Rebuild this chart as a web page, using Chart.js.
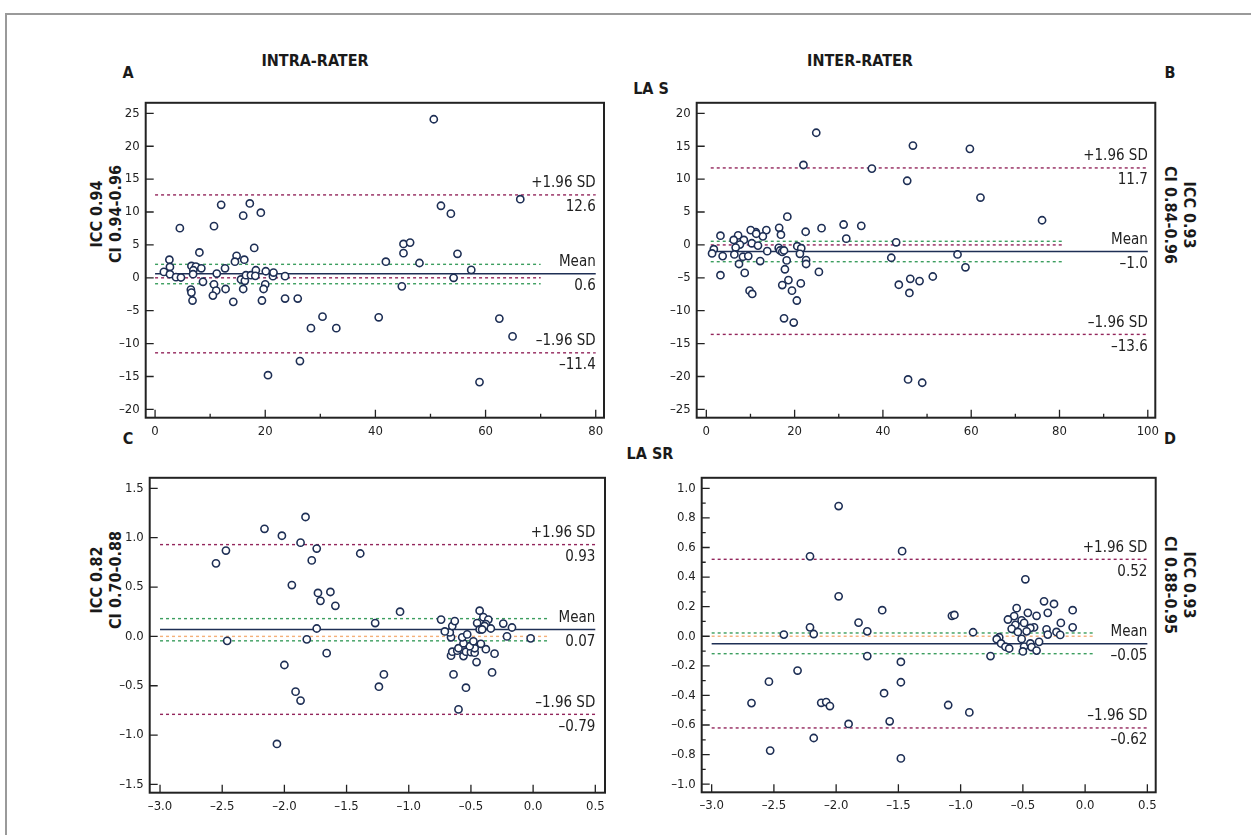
<!DOCTYPE html>
<html>
<head>
<meta charset="utf-8">
<title>LA strain – Bland-Altman</title>
<script src="https://cdn.jsdelivr.net/npm/chart.js@4.4.1/dist/chart.umd.min.js"></script>
<style>
  body { margin: 0; background: #fff; width: 1251px; height: 835px; position: relative; overflow: hidden;
         font-family: 'Liberation Sans Narrow', 'Arial Narrow', 'DejaVu Sans Condensed', sans-serif; color: #1a1a1a; }
  .border { position: absolute; left: 5px; top: 13px; width: 1300px; height: 900px;
            border-top: 2px solid #9a9a9a; border-left: 2px solid #9a9a9a; }
  .t { position: absolute; font-weight: bold; white-space: nowrap; transform: translate(-50%, -50%); font-size: 16px; }
  .rl { position: absolute; font-weight: bold; white-space: nowrap; font-size: 16px; line-height: 19px; text-align: center; }
  .rl.left { transform: translate(-50%, -50%) rotate(-90deg); }
  .rl.right { transform: translate(-50%, -50%) rotate(90deg); }
</style>
</head>
<body>
<div class="border"></div>

<div class="t" style="left:128px;top:72px">A</div>
<div class="t" style="left:1170px;top:72px">B</div>
<div class="t" style="left:128px;top:438px">C</div>
<div class="t" style="left:1170px;top:438px">D</div>
<div class="t" style="left:315px;top:60px">INTRA-RATER</div>
<div class="t" style="left:860px;top:60px">INTER-RATER</div>
<div class="t" style="left:651px;top:88px">LA S</div>
<div class="t" style="left:650px;top:453px">LA SR</div>

<div class="rl left" style="left:106px;top:214px">ICC 0.94<br>CI 0.94-0.96</div>
<div class="rl right" style="left:1180px;top:215px">ICC 0.93<br>CI 0.84-0.96</div>
<div class="rl left" style="left:106px;top:580px">ICC 0.82<br>CI 0.70-0.88</div>
<div class="rl right" style="left:1180px;top:585px">ICC 0.93<br>CI 0.88-0.95</div>

<script>
const intraS = [[50.6,24.1],[12.0,11.1],[17.2,11.3],[16.0,9.45],[19.2,9.9],[4.5,7.55],[10.7,7.85],[18.0,4.55],
  [8.05,3.85],[2.6,2.75],[14.8,3.35],[14.5,2.45],[16.2,2.75],[2.7,1.65],[1.6,0.9],[2.7,0.55],[3.8,0.1],[4.7,0.05],
  [6.6,1.8],[7.4,1.7],[6.95,1.15],[6.9,0.55],[8.4,1.45],[8.7,-0.6],[6.5,-1.8],[6.6,-2.25],[6.8,-3.45],[10.7,-1.0],
  [11.1,-1.95],[10.5,-2.7],[11.2,0.65],[12.7,1.45],[12.8,-1.7],[14.2,-3.65],[15.6,-0.25],[16.3,-0.45],[16.5,0.4],
  [16.0,-1.7],[17.4,0.4],[18.3,1.15],[18.2,0.3],[20.1,1.0],[20.0,-1.0],[19.7,-1.7],[19.4,-3.45],[21.4,0.25],
  [21.5,0.8],[23.6,0.25],[23.6,-3.15],[25.9,-3.15],[30.4,-5.9],[40.6,-6.0],[41.9,2.45],[45.1,5.15],[46.3,5.35],
  [45.1,3.75],[44.8,-1.3],[48.0,2.25],[51.9,10.95],[53.7,9.75],[66.3,11.95],[54.9,3.65],[57.4,1.2],[54.2,0.0],
  [58.9,-15.85],[20.5,-14.8],[26.3,-12.65],[28.3,-7.65],[32.9,-7.65],[62.5,-6.2],[64.9,-8.9]];

const interS = [[24.9,17.05],[22.0,12.15],[37.5,11.6],[46.8,15.1],[45.5,9.75],[59.7,14.6],[62.1,7.2],[76.05,3.75],
  [18.35,4.3],[31.1,3.1],[35.1,2.9],[26.1,2.55],[22.5,2.0],[16.5,2.6],[16.9,1.55],[13.6,2.25],[12.8,1.3],[11.2,1.95],
  [10.05,2.25],[11.3,1.7],[7.2,1.45],[6.2,0.75],[3.2,1.4],[8.5,0.75],[7.6,0.05],[6.65,-0.4],[10.3,0.25],[11.7,-0.1],
  [13.8,-0.95],[1.7,-0.65],[1.3,-1.3],[3.7,-1.7],[6.35,-1.45],[8.3,-1.8],[9.5,-1.7],[7.4,-2.9],[12.2,-2.45],
  [8.7,-4.25],[3.2,-4.6],[9.8,-6.95],[10.4,-7.45],[16.4,-0.45],[16.7,-0.85],[17.2,-1.05],[17.6,-0.85],[18.2,-2.35],
  [17.8,-3.7],[18.6,-5.35],[17.2,-6.1],[19.4,-6.95],[20.5,-8.45],[17.6,-11.15],[19.8,-11.8],[20.6,-0.2],[21.5,-0.5],
  [21.2,-1.35],[22.6,-2.3],[22.6,-2.9],[21.4,-5.85],[25.5,-4.1],[31.7,0.95],[43.0,0.4],[41.9,-1.95],[43.6,-6.05],
  [46.2,-5.15],[46.0,-7.3],[48.3,-5.5],[51.3,-4.8],[56.9,-1.45],[58.7,-3.4],[45.7,-20.45],[48.9,-20.95]];

const intraSR = [[-1.83,1.21],[-2.16,1.09],[-2.02,1.02],[-1.87,0.95],[-2.47,0.87],[-1.74,0.89],[-1.39,0.84],
  [-1.78,0.77],[-2.55,0.74],[-1.94,0.52],[-1.73,0.44],[-1.63,0.45],[-1.71,0.36],[-1.59,0.31],[-1.07,0.25],
  [-1.27,0.135],[-1.74,0.08],[-2.46,-0.045],[-1.82,-0.03],[-1.66,-0.17],[-2.0,-0.29],[-1.2,-0.385],[-1.24,-0.51],
  [-1.91,-0.56],[-1.87,-0.65],[-2.06,-1.09],[-0.6,-0.74],[-0.54,-0.52],[-0.64,-0.385],[-0.33,-0.365],[-0.455,-0.26],
  [-0.31,-0.175],[-0.38,-0.13],[-0.56,-0.2],[-0.66,-0.195],[-0.65,-0.155],[-0.61,-0.145],[-0.6,-0.12],[-0.54,-0.155],
  [-0.5,-0.16],[-0.47,-0.165],[-0.47,-0.12],[-0.51,-0.1],[-0.42,-0.075],[-0.48,-0.05],[-0.56,-0.07],[-0.57,-0.01],
  [-0.53,0.02],[-0.66,-0.01],[-0.67,0.04],[-0.71,0.05],[-0.65,0.105],[-0.63,0.155],[-0.74,0.17],[-0.43,0.26],
  [-0.4,0.195],[-0.36,0.17],[-0.45,0.135],[-0.38,0.125],[-0.39,0.105],[-0.43,0.07],[-0.41,0.07],[-0.34,0.08],
  [-0.24,0.13],[-0.17,0.09],[-0.21,0.0],[-0.02,-0.02]];

const interSR = [[-1.98,0.88],[-1.47,0.575],[-2.21,0.54],[-0.48,0.385],[-1.98,0.27],[-0.33,0.236],[-0.25,0.218],
  [-0.1,0.176],[-1.63,0.176],[-1.07,0.138],[-1.05,0.144],[-0.55,0.19],[-0.46,0.158],[-0.39,0.138],[-0.3,0.158],
  [-0.57,0.136],[-0.62,0.113],[-0.51,0.107],[-0.49,0.09],[-0.56,0.077],[-0.195,0.09],[-1.82,0.092],[-2.21,0.06],
  [-0.59,0.05],[-0.41,0.06],[-0.44,0.056],[-0.31,0.047],[-0.1,0.06],[-1.75,0.033],[-0.9,0.027],[-2.42,0.011],
  [-2.18,0.015],[-0.54,0.029],[-0.47,0.033],[-0.23,0.029],[-0.2,0.009],[-0.3,0.011],[-0.69,-0.007],[-0.71,-0.02],
  [-0.51,-0.018],[-0.675,-0.049],[-0.64,-0.071],[-0.61,-0.083],[-0.49,-0.07],[-0.44,-0.049],[-0.37,-0.038],
  [-0.43,-0.073],[-0.5,-0.103],[-0.39,-0.097],[-0.76,-0.134],[-1.75,-0.134],[-1.48,-0.174],[-2.31,-0.232],
  [-2.54,-0.307],[-1.48,-0.311],[-1.615,-0.385],[-2.68,-0.452],[-2.12,-0.45],[-2.08,-0.445],[-2.05,-0.472],
  [-1.1,-0.465],[-0.93,-0.515],[-1.9,-0.593],[-1.57,-0.575],[-2.18,-0.688],[-2.53,-0.773],[-1.48,-0.826]];

// [+1.96 SD, mean, -1.96 SD] and the CI band of the mean
const intraSLimits = [12.6, 0.6, -11.4],   intraSCi = [2.05, -0.9];
const interSLimits = [11.7, -1.0, -13.6],  interSCi = [0.55, -2.55];
const intraSRLimits = [0.93, 0.07, -0.79], intraSRCi = [0.18, -0.045];
const interSRLimits = [0.52, -0.05, -0.62], interSRCi = [0.022, -0.118];

const FONT = "'Liberation Sans Narrow', 'Arial Narrow', 'DejaVu Sans Condensed', sans-serif";
const NAVY = '#1e2f55', PURPLE = '#93265c', GREEN = '#3c9e5f', ORANGE = '#f4b07a';

function fmt(v, d) {
  const s = d == null ? String(Math.abs(v)) : Math.abs(v).toFixed(d);
  return v < -1e-9 ? '\u2013' + s : s;
}
function isStep(v, step) {
  const r = v / step;
  return Math.abs(r - Math.round(r)) < 1e-6;
}

// frame outline, inward tick marks and the limit labels
const decor = {
  id: 'decor',
  afterDraw(chart, args, o) {
    const { ctx, chartArea: a, scales } = chart;
    ctx.save();
    ctx.strokeStyle = '#222';
    ctx.lineWidth = 1.3;
    ctx.beginPath();
    scales.x.ticks.forEach(t => {
      const px = scales.x.getPixelForValue(t.value);
      const len = t.label === '' ? 4 : 8;
      ctx.moveTo(px, a.bottom); ctx.lineTo(px, a.bottom - len);
    });
    scales.y.ticks.forEach(t => {
      const py = scales.y.getPixelForValue(t.value);
      const len = t.label === '' ? 4 : 8;
      ctx.moveTo(a.left, py); ctx.lineTo(a.left + len, py);
    });
    ctx.stroke();
    ctx.lineWidth = 2;
    ctx.strokeRect(a.left, a.top, a.right - a.left, a.bottom - a.top);

    ctx.fillStyle = '#222';
    ctx.font = '15px ' + FONT;
    ctx.textAlign = 'right';
    const xr = scales.x.getPixelForValue(o.xEnd);
    const names = ['+1.96 SD', 'Mean', '\u20131.96 SD'];
    o.limits.forEach((v, i) => {
      const py = scales.y.getPixelForValue(v);
      ctx.textBaseline = 'bottom';
      ctx.fillText(names[i], xr, py - 4);
      ctx.textBaseline = 'top';
      ctx.fillText(fmt(v, o.dec), xr, py + 5);
    });
    ctx.restore();
  }
};

function hline(y, x0, x1, color, dashed) {
  return {
    data: [{ x: x0, y: y }, { x: x1, y: y }],
    showLine: true, pointRadius: 0, borderColor: color, borderWidth: dashed ? 1.4 : 1.5,
    borderDash: dashed ? [3, 3] : [], fill: false
  };
}

function panel(p) {
  const [fl, ft, fr, fb] = p.frame;
  const L = Math.floor(fl) - 60, T = Math.floor(ft) - 10;
  const W = Math.ceil(fr) + 20 - L, H = Math.ceil(fb) + 40 - T;
  const cv = document.createElement('canvas');
  cv.width = W; cv.height = H;
  cv.style.cssText = `position:absolute;left:${L}px;top:${T}px;width:${W}px;height:${H}px`;
  document.body.appendChild(cv);

  const [up, mean, low] = p.limits;
  const datasets = [
    { data: p.points.map(d => ({ x: d[0], y: d[1] })), pointStyle: 'circle', pointRadius: 3.6,
      pointBorderWidth: 1.6, pointBorderColor: NAVY, pointBackgroundColor: '#fff', showLine: false },
    hline(up, p.x0, p.xEnd, PURPLE, true),
    hline(low, p.x0, p.xEnd, PURPLE, true),
    hline(mean, p.x0, p.xEnd, NAVY, false),
    hline(p.ci[0], p.x0, p.xShort, GREEN, true),
    hline(p.ci[1], p.x0, p.xShort, GREEN, true),
    hline(0, p.x0, p.xShort, p.zeroColor, true)
  ];

  const axis = (r, side) => ({
    type: 'linear', position: side, min: r[0], max: r[1],
    grid: { display: false, drawTicks: false }, border: { display: false },
    afterFit(s) { if (side === 'left') s.width = 40; else s.height = 25; },
    ticks: {
      stepSize: r[2], autoSkip: false, includeBounds: false, maxRotation: 0, minRotation: 0,
      padding: side === 'left' ? 6 : 6, color: '#222', font: { family: FONT, size: 13 },
      callback: v => isStep(v, r[3]) ? fmt(v, r[4]) : ''
    }
  });

  new Chart(cv, {
    type: 'scatter',
    data: { datasets },
    options: {
      responsive: false, animation: false, events: [],
      layout: { padding: { left: fl - L - 40, top: ft - T, right: L + W - fr, bottom: T + H - fb - 25 } },
      plugins: { legend: { display: false }, tooltip: { enabled: false },
                 decor: { limits: p.limits, xEnd: p.xEnd, dec: p.dec } },
      scales: { x: axis(p.x, 'bottom'), y: axis(p.y, 'left') }
    },
    plugins: [decor]
  });
}

// x / y: [min, max, tick step, label step, decimals]
panel({ frame: [145.7, 99, 604, 417.7], x: [-1.7, 81.5, 10, 20, 0], y: [-21.26, 26.6, 5, 5, 0],
        points: intraS, limits: intraSLimits, ci: intraSCi, x0: 0, xEnd: 80, xShort: 70, zeroColor: PURPLE, dec: 1 });
panel({ frame: [696.7, 99, 1155.3, 417.7], x: [-2.18, 101.7, 10, 20, 0], y: [-26.26, 21.6, 5, 5, 0],
        points: interS, limits: interSLimits, ci: interSCi, x0: 1, xEnd: 100, xShort: 81, zeroColor: PURPLE, dec: 1 });
panel({ frame: [149.7, 474, 605, 792.7], x: [-3.083, 0.578, 0.5, 0.5, 1], y: [-1.584, 1.607, 0.5, 0.5, 1],
        points: intraSR, limits: intraSRLimits, ci: intraSRCi, x0: -3, xEnd: 0.5, xShort: 0.13, zeroColor: ORANGE, dec: 2 });
panel({ frame: [701.7, 474, 1155.7, 792.3], x: [-3.08, 0.567, 0.5, 0.5, 1], y: [-1.055, 1.071, 0.1, 0.2, 1],
        points: interSR, limits: interSRLimits, ci: interSRCi, x0: -3, xEnd: 0.5, xShort: 0.07, zeroColor: ORANGE, dec: 2 });
</script>
</body>
</html>
